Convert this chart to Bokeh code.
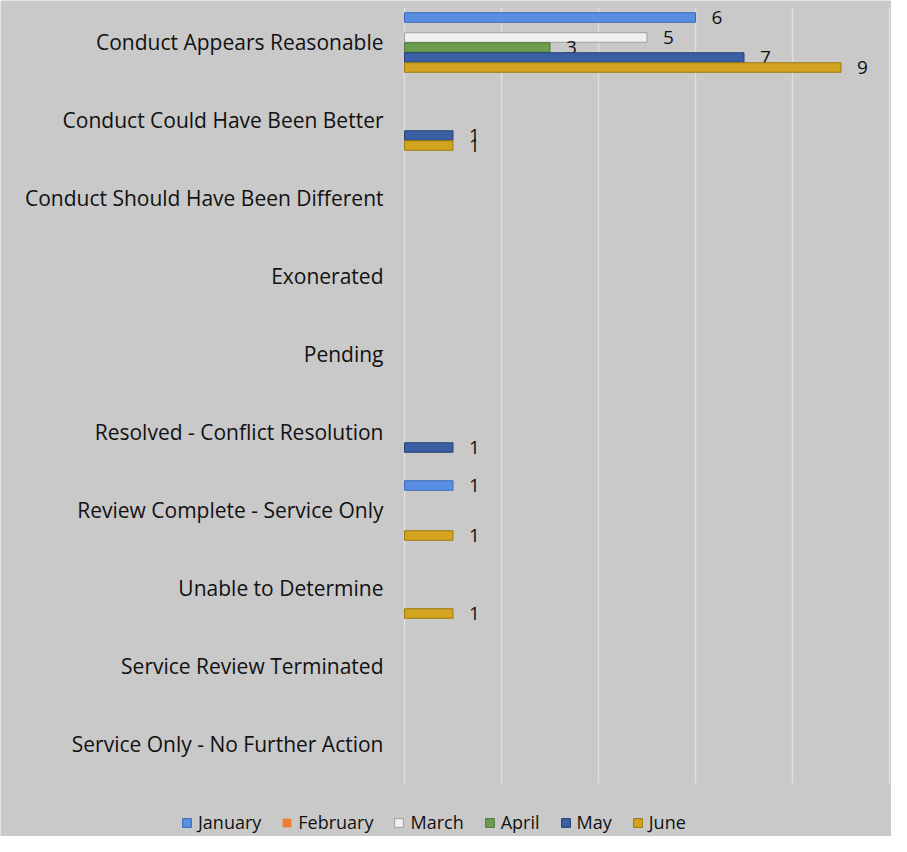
from bokeh.plotting import figure
from bokeh.models import ColumnDataSource, Range1d, Legend, LegendItem
from bokeh.core.properties import value
from bokeh.embed import file_html
from bokeh.resources import INLINE

categories = [
    "Conduct Appears Reasonable",
    "Conduct Could Have Been Better",
    "Conduct Should Have Been Different",
    "Exonerated",
    "Pending",
    "Resolved - Conflict Resolution",
    "Review Complete - Service Only",
    "Unable to Determine",
    "Service Review Terminated",
    "Service Only - No Further Action",
]
months = ["January", "February", "March", "April", "May", "June"]
january = [6, 0, 0, 0, 0, 0, 1, 0, 0, 0]
february = [0, 0, 0, 0, 0, 0, 0, 0, 0, 0]
march = [5, 0, 0, 0, 0, 0, 0, 0, 0, 0]
april = [3, 0, 0, 0, 0, 0, 0, 0, 0, 0]
may = [7, 1, 0, 0, 0, 1, 0, 0, 0, 0]
june = [9, 1, 0, 0, 0, 0, 1, 1, 0, 0]
series = [january, february, march, april, may, june]
fills = ["#5a8ee3", "#ed7d31", "#f0f0f0", "#6b9c4f", "#3a5fa3", "#d2a41f"]
lines = ["#3a68b8", "#b85a1a", "#a0a0a0", "#4b7a35", "#263f78", "#9c7a0c"]
x_ticks = [0, 2, 4, 6, 8, 10]

FONT = "Open Sans"
BG = "#c9c9c9"
TXT = "#111111"

# layout (pixels)
W, H = 891, 836
X0_PX, XMAX_PX = 404, 889          # where value 0 and value 10 fall
TOP_PX, BAND_PX = 3, 78.0          # top of first category band, band height
x_min, x_max = x_ticks[0], x_ticks[-1]
ux = (x_max - x_min) / (XMAX_PX - X0_PX)
xr = Range1d(x_min - X0_PX * ux, x_min + (W - X0_PX) * ux)
y_top = -0.5 - TOP_PX / BAND_PX
yr = Range1d(y_top + H / BAND_PX, y_top)   # inverted: first category at the top

p = figure(
    width=W, height=H, x_range=xr, y_range=yr,
    x_axis_location=None, y_axis_location=None,
    output_backend="svg", toolbar_location=None,
    min_border_left=0, min_border_right=0, min_border_top=0, min_border_bottom=0,
)
p.background_fill_color = BG
p.border_fill_color = BG
p.outline_line_color = None
p.grid.visible = False

n = len(categories)
pos = list(range(n))

# vertical gridlines spanning the category bands
gsrc = ColumnDataSource(dict(x=x_ticks, y0=[pos[0] - 0.45] * len(x_ticks), y1=[pos[-1] + 0.5] * len(x_ticks)))
p.segment(x0="x", x1="x", y0="y0", y1="y1", source=gsrc, line_color="#dedede", line_width=1.5)

# category labels
csrc = ColumnDataSource(dict(x=[x_min] * n, y=pos, t=categories))
p.text(x="x", y="y", text="t", source=csrc, x_offset=-21, y_offset=-1, text_align="right",
       text_baseline="middle", text_font=value(FONT), text_font_size="21px", text_color=TXT)

slot = 10.0 / BAND_PX
offsets = [-2.5 * slot, -1.5 * slot, -0.5 * slot, 0.5 * slot, 1.5 * slot, 2.5 * slot]

items = []
for name, vals, fc, lc, off in zip(months, series, fills, lines, offsets):
    src = ColumnDataSource(dict(y=[i + off for i in pos], v=vals,
                                la=[1.0 if v != 0 else 0.0 for v in vals]))
    r = p.hbar(y="y", left=0, right="v", height=slot * 0.95, source=src,
               fill_color=fc, line_color=lc, line_width=1, line_alpha="la")
    items.append(LegendItem(label=name, renderers=[r]))
    nz = [i for i, v in enumerate(vals) if v != 0]
    lsrc = ColumnDataSource(dict(y=[i + off for i in nz], v=[vals[i] for i in nz],
                                 t=[str(vals[i]) for i in nz]))
    p.text(x="v", y="y", text="t", source=lsrc, x_offset=16, text_baseline="middle",
           text_align="left", text_font=value(FONT), text_font_size="19px", text_color=TXT)

legend = Legend(items=items, orientation="horizontal", location=(181, 2),
                glyph_width=11, glyph_height=11, label_standoff=6, spacing=20,
                padding=0, margin=0, label_text_font=FONT, label_text_font_size="18px",
                label_text_color=TXT, background_fill_alpha=0, border_line_color=None,
                label_height=16)
p.add_layout(legend, "center")

open("out.html", "w").write(file_html(p, INLINE))
